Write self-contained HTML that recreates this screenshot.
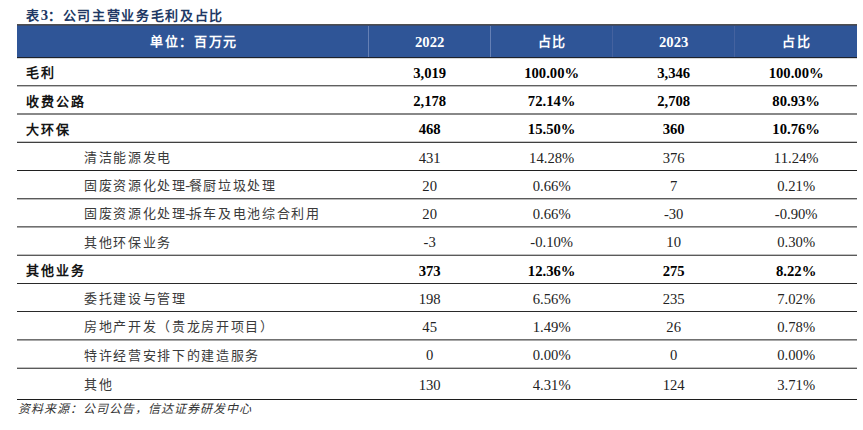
<!DOCTYPE html>
<html lang="zh-CN"><head><meta charset="utf-8"><style>
html,body{margin:0;padding:0;background:#fff;width:863px;height:430px;overflow:hidden;position:relative}
body{font-family:"Liberation Serif",serif;}
.a{position:absolute;white-space:nowrap}
.z{font-size:13px;letter-spacing:1.67px}
.t{font-weight:bold;font-size:14.67px;color:#203864;}
.hd{background:#2F5597;}
.ht{color:#fff;font-weight:bold;font-size:14.67px;text-align:center;}
.c{font-size:14.67px;color:#222;text-align:center;}
.lb{font-size:14.67px;color:#3a3a3a;}
.b{font-weight:bold}
.c.b{color:#000}
.lb.b{color:#151515}
.lb.b .z{letter-spacing:2px}
.ln{background:#777;height:1px}
.vd{background:#6a86bf;width:1px}
.ft{font-style:italic;color:#333;}
.ht .z{position:relative;left:1.5px;top:-1px}
.hy{margin-left:-1.5px;margin-right:-1.5px}
.ft .z{font-size:12px;letter-spacing:0.98px}
</style></head><body>

<div class="a t" style="left:26px;top:5.7px;line-height:18px"><span class="z">表</span>3<span class="z">：公司主营业务毛利及占比</span></div>
<div class="a hd" style="left:17px;top:24px;width:840px;height:33px"></div>
<div class="a" style="left:17px;top:24px;width:840px;height:1px;background:#505050"></div>
<div class="a" style="left:17px;top:25px;width:840px;height:1px;background:#3b4a6b"></div>
<div class="a" style="left:17px;top:57px;width:840px;height:1px;background:#1d212b"></div>
<div class="a" style="left:17px;top:58px;width:840px;height:1px;background:#d8d8d8"></div>
<div class="a vd" style="left:368px;top:26px;height:31px;background:#6580b5"></div>
<div class="a vd" style="left:490px;top:26px;height:31px;background:#6580b5"></div>
<div class="a vd" style="left:612px;top:26px;height:31px;background:#44629f"></div>
<div class="a vd" style="left:734px;top:26px;height:31px;background:#44629f"></div>
<div class="a ht" style="left:17.00px;width:351px;top:26.2px;height:33px;line-height:33px"><span class="z">单位：百万元</span></div>
<div class="a ht" style="left:368.70px;width:122px;top:26.2px;height:33px;line-height:33px">2022</div>
<div class="a ht" style="left:490.00px;width:122px;top:26.2px;height:33px;line-height:33px"><span class="z">占比</span></div>
<div class="a ht" style="left:612.70px;width:122px;top:26.2px;height:33px;line-height:33px">2023</div>
<div class="a ht" style="left:734.00px;width:123px;top:26.2px;height:33px;line-height:33px"><span class="z">占比</span></div>
<div class="a lb b" style="left:26px;top:58.25px;height:28px;line-height:28px"><span class="z">毛利</span></div>
<div class="a c b" style="left:368.70px;width:122px;top:58.95px;height:28px;line-height:28px">3,019</div>
<div class="a c b" style="left:490.70px;width:122px;top:58.95px;height:28px;line-height:28px">100.00%</div>
<div class="a c b" style="left:612.70px;width:122px;top:58.95px;height:28px;line-height:28px">3,346</div>
<div class="a c b" style="left:734.70px;width:123px;top:58.95px;height:28px;line-height:28px">100.00%</div>
<div class="a lb b" style="left:26px;top:86.50px;height:28px;line-height:28px"><span class="z">收费公路</span></div>
<div class="a c b" style="left:368.70px;width:122px;top:87.20px;height:28px;line-height:28px">2,178</div>
<div class="a c b" style="left:490.70px;width:122px;top:87.20px;height:28px;line-height:28px">72.14%</div>
<div class="a c b" style="left:612.70px;width:122px;top:87.20px;height:28px;line-height:28px">2,708</div>
<div class="a c b" style="left:734.70px;width:123px;top:87.20px;height:28px;line-height:28px">80.93%</div>
<div class="a lb b" style="left:26px;top:114.75px;height:28px;line-height:28px"><span class="z">大环保</span></div>
<div class="a c b" style="left:368.70px;width:122px;top:115.45px;height:28px;line-height:28px">468</div>
<div class="a c b" style="left:490.70px;width:122px;top:115.45px;height:28px;line-height:28px">15.50%</div>
<div class="a c b" style="left:612.70px;width:122px;top:115.45px;height:28px;line-height:28px">360</div>
<div class="a c b" style="left:734.70px;width:123px;top:115.45px;height:28px;line-height:28px">10.76%</div>
<div class="a lb" style="left:84px;top:143.00px;height:28px;line-height:28px"><span class="z">清洁能源发电</span></div>
<div class="a c" style="left:368.70px;width:122px;top:143.70px;height:28px;line-height:28px">431</div>
<div class="a c" style="left:490.70px;width:122px;top:143.70px;height:28px;line-height:28px">14.28%</div>
<div class="a c" style="left:612.70px;width:122px;top:143.70px;height:28px;line-height:28px">376</div>
<div class="a c" style="left:734.70px;width:123px;top:143.70px;height:28px;line-height:28px">11.24%</div>
<div class="a lb" style="left:84px;top:171.25px;height:28px;line-height:28px"><span class="z">固废资源化处理</span><span class="hy">-</span><span class="z">餐厨垃圾处理</span></div>
<div class="a c" style="left:368.70px;width:122px;top:171.95px;height:28px;line-height:28px">20</div>
<div class="a c" style="left:490.70px;width:122px;top:171.95px;height:28px;line-height:28px">0.66%</div>
<div class="a c" style="left:612.70px;width:122px;top:171.95px;height:28px;line-height:28px">7</div>
<div class="a c" style="left:734.70px;width:123px;top:171.95px;height:28px;line-height:28px">0.21%</div>
<div class="a lb" style="left:84px;top:199.45px;height:28px;line-height:28px"><span class="z">固废资源化处理</span><span class="hy">-</span><span class="z">拆车及电池综合利用</span></div>
<div class="a c" style="left:368.70px;width:122px;top:200.15px;height:28px;line-height:28px">20</div>
<div class="a c" style="left:490.70px;width:122px;top:200.15px;height:28px;line-height:28px">0.66%</div>
<div class="a c" style="left:612.70px;width:122px;top:200.15px;height:28px;line-height:28px">-30</div>
<div class="a c" style="left:734.70px;width:123px;top:200.15px;height:28px;line-height:28px">-0.90%</div>
<div class="a lb" style="left:84px;top:227.65px;height:28px;line-height:28px"><span class="z">其他环保业务</span></div>
<div class="a c" style="left:368.70px;width:122px;top:228.35px;height:28px;line-height:28px">-3</div>
<div class="a c" style="left:490.70px;width:122px;top:228.35px;height:28px;line-height:28px">-0.10%</div>
<div class="a c" style="left:612.70px;width:122px;top:228.35px;height:28px;line-height:28px">10</div>
<div class="a c" style="left:734.70px;width:123px;top:228.35px;height:28px;line-height:28px">0.30%</div>
<div class="a lb b" style="left:26px;top:255.95px;height:28px;line-height:28px"><span class="z">其他业务</span></div>
<div class="a c b" style="left:368.70px;width:122px;top:256.65px;height:28px;line-height:28px">373</div>
<div class="a c b" style="left:490.70px;width:122px;top:256.65px;height:28px;line-height:28px">12.36%</div>
<div class="a c b" style="left:612.70px;width:122px;top:256.65px;height:28px;line-height:28px">275</div>
<div class="a c b" style="left:734.70px;width:123px;top:256.65px;height:28px;line-height:28px">8.22%</div>
<div class="a lb" style="left:84px;top:284.10px;height:28px;line-height:28px"><span class="z">委托建设与管理</span></div>
<div class="a c" style="left:368.70px;width:122px;top:284.80px;height:28px;line-height:28px">198</div>
<div class="a c" style="left:490.70px;width:122px;top:284.80px;height:28px;line-height:28px">6.56%</div>
<div class="a c" style="left:612.70px;width:122px;top:284.80px;height:28px;line-height:28px">235</div>
<div class="a c" style="left:734.70px;width:123px;top:284.80px;height:28px;line-height:28px">7.02%</div>
<div class="a lb" style="left:84px;top:312.30px;height:28px;line-height:28px"><span class="z">房地产开发（贵龙房开项目）</span></div>
<div class="a c" style="left:368.70px;width:122px;top:313.00px;height:28px;line-height:28px">45</div>
<div class="a c" style="left:490.70px;width:122px;top:313.00px;height:28px;line-height:28px">1.49%</div>
<div class="a c" style="left:612.70px;width:122px;top:313.00px;height:28px;line-height:28px">26</div>
<div class="a c" style="left:734.70px;width:123px;top:313.00px;height:28px;line-height:28px">0.78%</div>
<div class="a lb" style="left:84px;top:340.65px;height:28px;line-height:28px"><span class="z">特许经营安排下的建造服务</span></div>
<div class="a c" style="left:368.70px;width:122px;top:341.35px;height:28px;line-height:28px">0</div>
<div class="a c" style="left:490.70px;width:122px;top:341.35px;height:28px;line-height:28px">0.00%</div>
<div class="a c" style="left:612.70px;width:122px;top:341.35px;height:28px;line-height:28px">0</div>
<div class="a c" style="left:734.70px;width:123px;top:341.35px;height:28px;line-height:28px">0.00%</div>
<div class="a lb" style="left:84px;top:370.45px;height:28px;line-height:28px"><span class="z">其他</span></div>
<div class="a c" style="left:368.70px;width:122px;top:371.15px;height:28px;line-height:28px">130</div>
<div class="a c" style="left:490.70px;width:122px;top:371.15px;height:28px;line-height:28px">4.31%</div>
<div class="a c" style="left:612.70px;width:122px;top:371.15px;height:28px;line-height:28px">124</div>
<div class="a c" style="left:734.70px;width:123px;top:371.15px;height:28px;line-height:28px">3.71%</div>
<div class="a" style="left:17px;top:85px;width:840px;height:1px;background:#606060"></div>
<div class="a" style="left:17px;top:86px;width:840px;height:1px;background:#c0c0c0"></div>
<div class="a" style="left:17px;top:113px;width:840px;height:1px;background:#888888"></div>
<div class="a" style="left:17px;top:114px;width:840px;height:1px;background:#888888"></div>
<div class="a" style="left:17px;top:141px;width:840px;height:1px;background:#c8c8c8"></div>
<div class="a" style="left:17px;top:142px;width:840px;height:1px;background:#404040"></div>
<div class="a" style="left:17px;top:170px;width:840px;height:1px;background:#202020"></div>
<div class="a" style="left:17px;top:198px;width:840px;height:1px;background:#5a5a5a"></div>
<div class="a" style="left:17px;top:199px;width:840px;height:1px;background:#bbbbbb"></div>
<div class="a" style="left:17px;top:226px;width:840px;height:1px;background:#707070"></div>
<div class="a" style="left:17px;top:227px;width:840px;height:1px;background:#a8a8a8"></div>
<div class="a" style="left:17px;top:254px;width:840px;height:1px;background:#c0c0c0"></div>
<div class="a" style="left:17px;top:255px;width:840px;height:1px;background:#5a5a5a"></div>
<div class="a" style="left:17px;top:283px;width:840px;height:1px;background:#2a2a2a"></div>
<div class="a" style="left:17px;top:311px;width:840px;height:1px;background:#2a2a2a"></div>
<div class="a" style="left:17px;top:339px;width:840px;height:1px;background:#707070"></div>
<div class="a" style="left:17px;top:340px;width:840px;height:1px;background:#a8a8a8"></div>
<div class="a" style="left:17px;top:367px;width:840px;height:1px;background:#c0c0c0"></div>
<div class="a" style="left:17px;top:368px;width:840px;height:1px;background:#5a5a5a"></div>
<div class="a" style="left:17px;top:399px;width:840px;height:1px;background:#1c1c1c"></div>
<div class="a ft" style="left:18px;top:400px;line-height:16px"><span class="z">资料来源：公司公告，信达证券研发中心</span></div>
</body></html>
